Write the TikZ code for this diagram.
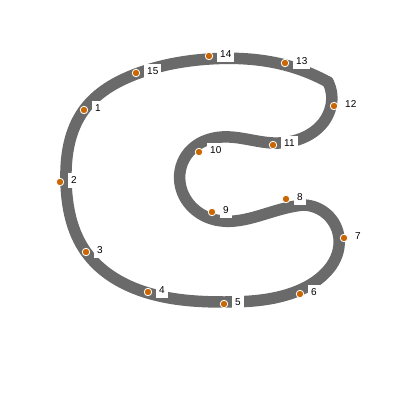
\documentclass[tikz,border=0pt]{standalone}
\usepackage{fontspec}
\setmainfont{Liberation Sans}
\usetikzlibrary{hobby}
\begin{document}
\begin{tikzpicture}[x=1pt,y=-1pt,
  curve/.style={draw={rgb,255:red,106;green,106;blue,106},line width=11.5pt,line cap=round,line join=round},
  dot/.style={circle,fill={rgb,255:red,204;green,102;blue,0},draw=white,line width=0.8pt,inner sep=0pt,minimum size=7.5pt},
  lbl/.style={fill=white,inner xsep=3pt,inner ysep=2pt,minimum height=15pt,font=\fontsize{10}{11}\selectfont,anchor=west}]
\useasboundingbox (0,0) rectangle (400,400);
% dot positions
\coordinate (c1) at (84,110);
\coordinate (c2) at (60,182);
\coordinate (c3) at (86,252);
\coordinate (c4) at (148,292);
\coordinate (c5) at (224,304);
\coordinate (c6) at (300,294);
\coordinate (c7) at (344,238);
\coordinate (c8) at (286,199);
\coordinate (c9) at (212,212);
\coordinate (c10) at (199,152);
\coordinate (c11) at (273,145);
\coordinate (c12) at (334,106);
\coordinate (c13) at (285,63);
\coordinate (c14) at (209,56);
\coordinate (c15) at (136,73);
% curve points
\coordinate (q1) at (84,110);
\coordinate (q2) at (66,182);
\coordinate (q3) at (86,252);
\coordinate (q4) at (148,293);
\coordinate (q5) at (224,302);
\coordinate (q6) at (300,290);
\coordinate (q7) at (339,238);
\coordinate (k2) at (303,205);
\coordinate (q8) at (286,208);
\coordinate (q9) at (212,219);
\coordinate (qL) at (180,183);
\coordinate (q10) at (189,152);
\coordinate (qT) at (222,137);
\coordinate (q11) at (273,143);
\coordinate (q12) at (331,106);
\coordinate (k1) at (328,82);
\coordinate (q13) at (285,65);
\coordinate (q14) at (209,59);
\coordinate (q15) at (136,74);
\draw[curve,use Hobby shortcut] (k1) .. (q13) .. (q14) .. (q15) .. (q1) .. (q2) .. (q3) .. (q4) .. (q5) .. (q6) .. (q7) .. (k2);
\draw[curve,use Hobby shortcut] (k2) .. (q8) .. (q9) .. (qL) .. (q10) .. (qT) .. (q11) .. (q12) .. (k1);
\foreach \i in {1,...,15} {
  \node[dot] (p\i) at (c\i) {};
}
\foreach \i in {1,...,15} {
  \node[lbl] (l\i) at ([xshift=8pt,yshift=1.5pt]c\i) {\i};
}
\end{tikzpicture}
\end{document}
